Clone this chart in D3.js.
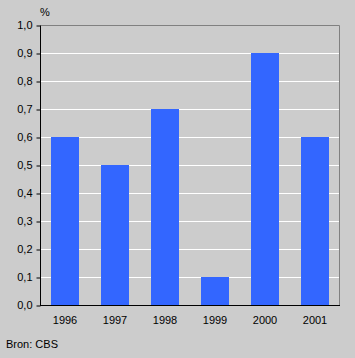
<!DOCTYPE html>
<html>
<head>
<meta charset="utf-8">
<script src="https://cdn.jsdelivr.net/npm/d3@7"></script>
<style>
  body { margin: 0; background: #cccccc; }
  svg { display: block; font-family: "Liberation Sans", Arial, sans-serif; }
</style>
</head>
<body>
<div id="chart"></div>
<script>
// ---- Data ----
const years = ["1996", "1997", "1998", "1999", "2000", "2001"];
const values = [0.6, 0.5, 0.7, 0.1, 0.9, 0.6];
const yTicks = [0, 0.1, 0.2, 0.3, 0.4, 0.5, 0.6, 0.7, 0.8, 0.9, 1.0];

const W = 355, H = 358;
const margin = { top: 25, right: 15, bottom: 53, left: 40 };
const width = W - margin.left - margin.right;
const height = H - margin.top - margin.bottom;

const root = d3.select("#chart").append("svg")
  .attr("width", W).attr("height", H);

root.append("rect").attr("width", W).attr("height", H).attr("fill", "#cccccc");

const svg = root.append("g").attr("transform", `translate(${margin.left},${margin.top})`);

// ---- Scales ----
const x = d3.scaleBand().domain(years).range([0, width]).paddingInner(0.44).paddingOuter(0.22);
const y = d3.scaleLinear().domain([0, 1]).range([height, 0]);
const fmt = d => d3.format(".1f")(d).replace(".", ",");

// ---- Gridlines ----
svg.selectAll("line.grid")
  .data(yTicks.filter(t => t > 0 && t < 1))
  .join("line")
  .attr("class", "grid")
  .attr("x1", 0).attr("x2", width)
  .attr("y1", d => Math.round(y(d)) + 0.5).attr("y2", d => Math.round(y(d)) + 0.5)
  .attr("stroke", "#ffffff").attr("stroke-width", 1);

// ---- Frame (top / right in grey) ----
svg.append("path")
  .attr("d", `M0.5,0.5H${width - 0.5}V${height}`)
  .attr("fill", "none").attr("stroke", "#808080").attr("stroke-width", 1);

// ---- Bars ----
svg.selectAll("rect.bar")
  .data(values)
  .join("rect")
  .attr("class", "bar")
  .attr("x", (d, i) => Math.round(x(years[i])))
  .attr("width", Math.round(x.bandwidth()))
  .attr("y", d => Math.round(y(d)))
  .attr("height", d => height - Math.round(y(d)))
  .attr("fill", "#3366ff");

// ---- Axes ----
const yAxis = svg.append("g")
  .attr("transform", "translate(0.5,0)")
  .call(d3.axisLeft(y).tickValues(yTicks).tickFormat(fmt).tickSize(4).tickPadding(4));
yAxis.select(".domain").attr("stroke", "#000").attr("d", `M0,0.5V${height + 0.5}`);
yAxis.selectAll(".tick line").attr("stroke", "#000").attr("transform", "translate(0,0.5)");
yAxis.selectAll("text").attr("fill", "#000").style("font-size", "11px");

const xAxis = svg.append("g")
  .attr("transform", `translate(0,${height + 0.5})`)
  .call(d3.axisBottom(x).tickSize(0).tickPadding(11));
xAxis.select(".domain").attr("stroke", "#000").attr("d", `M0,0H${width}`);
xAxis.selectAll("text").attr("fill", "#000").style("font-size", "11px");

// ---- Labels ----
root.append("text")
  .attr("x", 40).attr("y", 16)
  .style("font-size", "11px").attr("fill", "#000")
  .text("%");

root.append("text")
  .attr("x", 6).attr("y", 348)
  .style("font-size", "11px").attr("fill", "#000")
  .text("Bron: CBS");
</script>
</body>
</html>
